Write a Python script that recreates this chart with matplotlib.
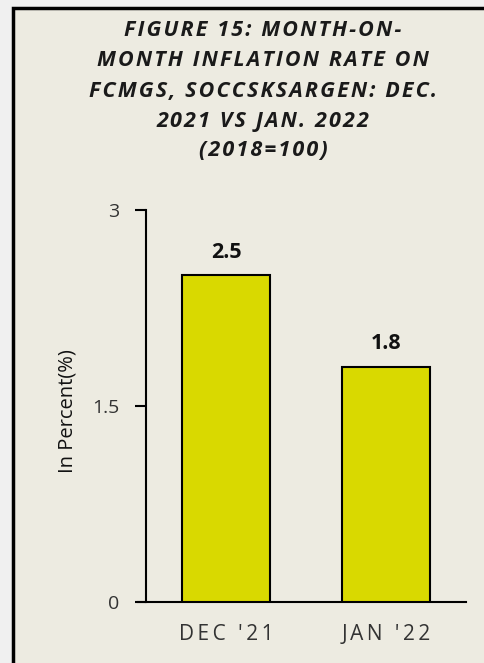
import matplotlib.pyplot as plt
from matplotlib.patches import Rectangle

# datos
meses = ["DEC '21", "JAN '22"]
inflacion = [2.5, 1.8]
yticks = [0, 1.5, 3]
ytick_labels = ["0", "1.5", "3"]
titulo = ["FIGURE 15: MONTH-ON-", "MONTH INFLATION RATE ON",
          "FCMGS, SOCCSKSARGEN: DEC.", "2021 VS JAN. 2022", "(2018=100)"]

fondo = "#edebe1"
amarillo = "#d9d900"
fuentes = ["Open Sans", "DejaVu Sans"]


def espaciar(texto, sep="\u2009"):
    # simular el espaciado entre letras
    return sep.join(texto)


fig = plt.figure(figsize=(4.85, 6.63), dpi=100)
fig.patch.set_facecolor("#f0f0f0")

# panel con borde negro
marco = Rectangle((13 / 485, -0.05), 1.0, 1 - 8 / 663 + 0.05,
                  transform=fig.transFigure, facecolor=fondo,
                  edgecolor="black", linewidth=2.5, zorder=-5)
fig.patches.append(marco)

ax = fig.add_axes([146 / 485, 1 - 602 / 663, 320 / 485, 392 / 663])
ax.set_facecolor("none")
ax.set_zorder(2)

x = list(range(len(meses)))
ax.bar(x, inflacion, width=0.55, color=amarillo,
       edgecolor="black", linewidth=1.5, zorder=3)

for xi, v in zip(x, inflacion):
    ax.text(xi, v + 0.135, f"{v}", ha="center", va="baseline",
            fontsize=15.5, fontweight="bold", color="#111111",
            family=fuentes)

ax.set_xlim(-0.5, 1.5)
ax.set_ylim(0, 3)
ax.set_yticks(yticks)
ax.set_yticklabels(ytick_labels, fontsize=14, color="#333333", family=fuentes)
ax.set_xticks(x)
ax.set_xticklabels([espaciar(m) for m in meses], fontsize=15,
                   color="#333333", family=fuentes)
ax.tick_params(axis="x", length=0, pad=16)
ax.tick_params(axis="y", length=8, width=1.5, direction="out", pad=11)

for lado in ["top", "right"]:
    ax.spines[lado].set_visible(False)
ax.spines["left"].set_linewidth(1.5)
ax.spines["bottom"].set_linewidth(1.5)
ax.spines["bottom"].set_bounds(-0.55, 1.5)

fig.text(68 / 485, 1 - 411 / 663, "In Percent(%)", rotation=90,
         ha="center", va="center", fontsize=14.5, color="#111111",
         family=fuentes)

for i, linea in enumerate(titulo):
    fig.text(263 / 485, 1 - (31 + i * 30) / 663, espaciar(linea, "\u200a"),
             ha="center", va="center", fontsize=15.5, fontweight="bold",
             fontstyle="italic", family=fuentes, color="#1a1a1a")

plt.savefig("out.png", dpi=100, facecolor=fig.get_facecolor())
